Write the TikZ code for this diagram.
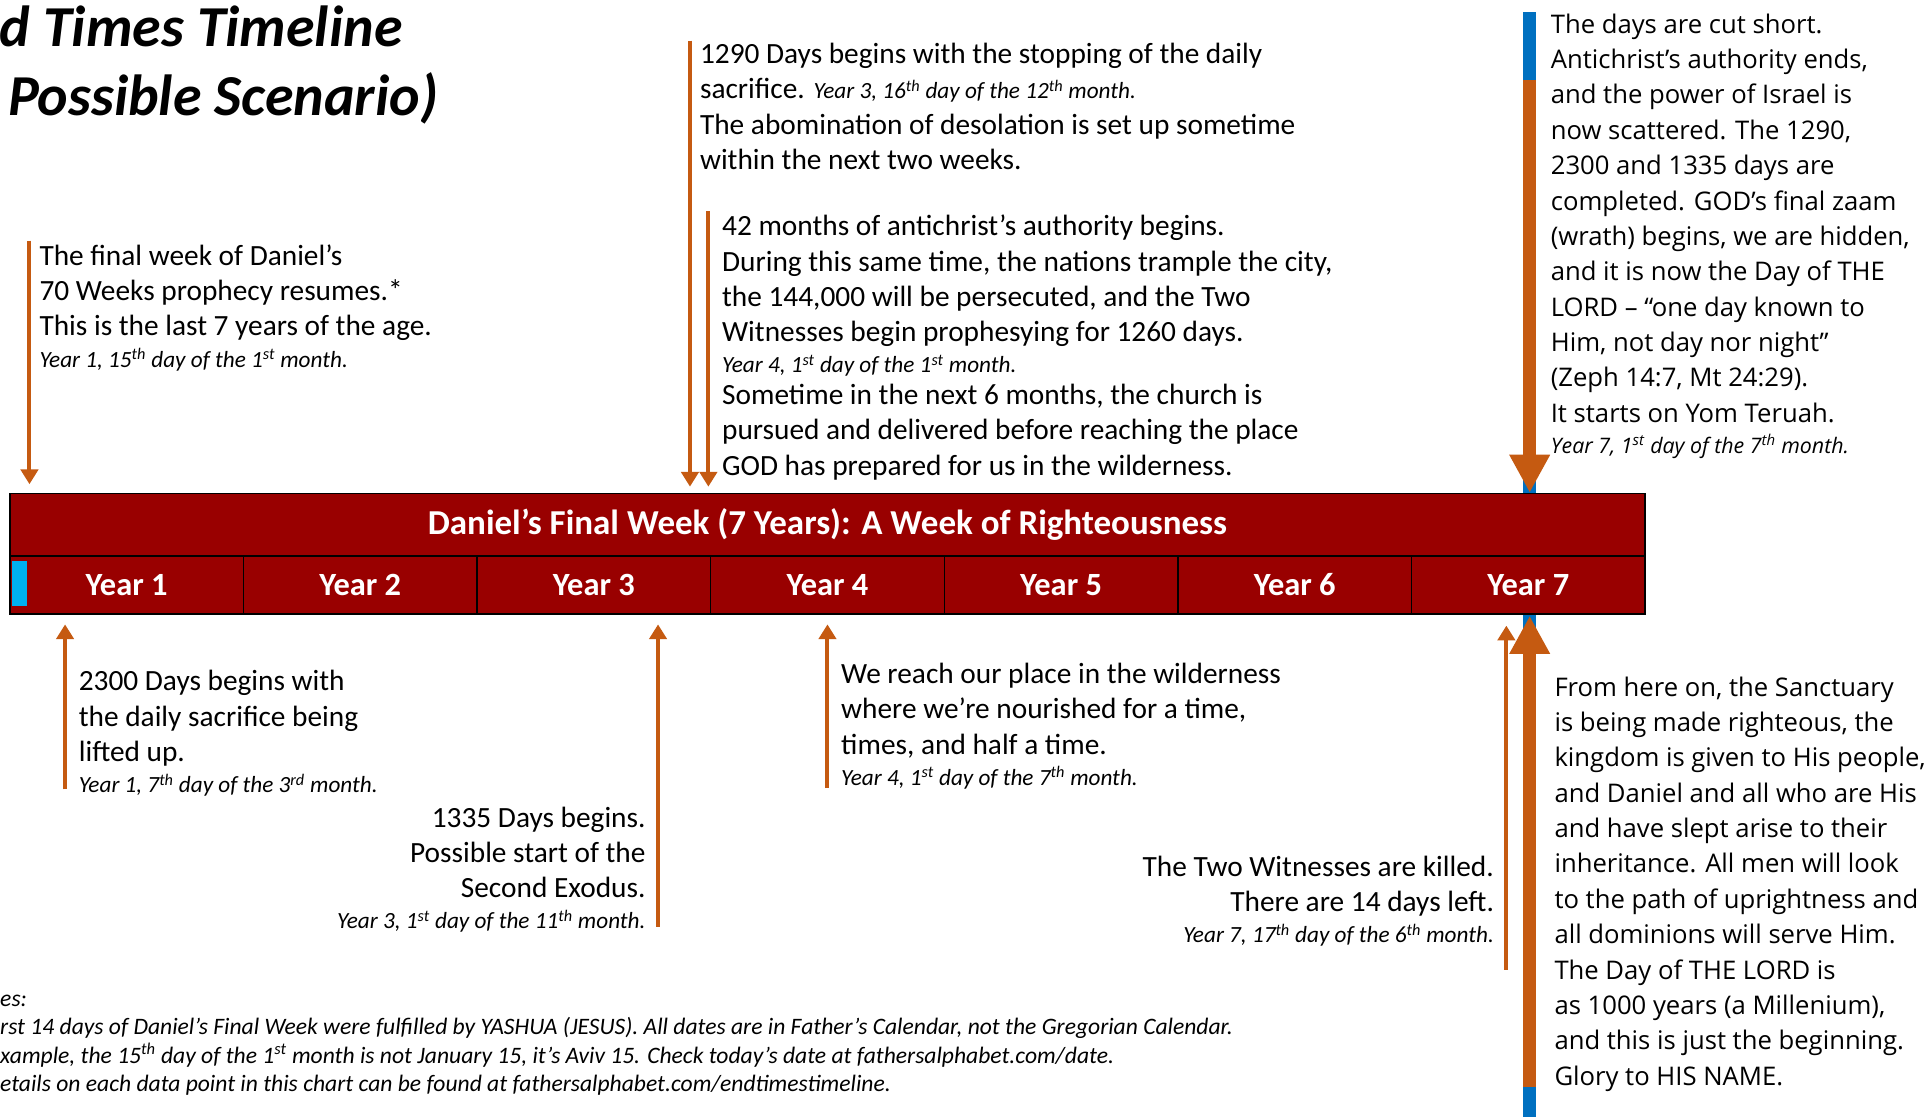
\documentclass[tikz,border=0pt]{standalone}
\usepackage{fontspec}
\setmainfont{Carlito}
\newfontfamily\segoe{Open Sans}
\usetikzlibrary{arrows.meta,positioning}
\definecolor{arroworange}{HTML}{C55A11}
\definecolor{weekred}{HTML}{990000}
\definecolor{lineblue}{HTML}{0070C0}
\definecolor{skyblue}{HTML}{00B0F0}
\newcommand{\txtfont}{\fontsize{23.9}{28.7}\selectfont}
\newcommand{\sidefont}{\segoe\fontsize{20.9}{28.8}\selectfont}
\newcommand{\datefont}{\fontsize{18.9}{21}\selectfont\itshape}
\newcommand{\sidedate}{\segoe\fontsize{17.4}{20}\selectfont\itshape}
\newcommand{\titlefont}{\fontsize{47.2}{52}\selectfont\bfseries\itshape}
\newcommand{\sups}[1]{\textsuperscript{#1}}

\begin{document}
\begin{tikzpicture}[x=1pt,y=-1pt,
  note/.style={inner sep=0pt,anchor=north west,align=left,font=\txtfont},
  noteright/.style={note,anchor=north east,align=right},
  sidenote/.style={note,font=\sidefont},
  hdrbox/.style={draw=black,line width=1.2pt,fill=weekred,text=white,
    font=\fontsize{28.5}{32}\selectfont\bfseries,minimum width=1332pt,minimum height=51pt,inner sep=0pt},
  yearbox/.style={hdrbox,font=\fontsize{26.4}{30}\selectfont\bfseries,minimum width=190.29pt,minimum height=47pt},
  thinarrow/.style={arroworange,line width=3.3pt,-{Triangle[width=14pt,length=12pt]}},
  bigarrow/.style={arroworange,line width=10.3pt,-{Triangle[width=31pt,length=31pt]}}]
\fill[white] (0,0) rectangle (1568,910);
\useasboundingbox (0,0) rectangle (1568,910);

\node[anchor=base east,inner sep=0pt,font=\titlefont] (title1) at (328,38) {d Times Timeline};
\node[anchor=base east,inner sep=0pt,font=\titlefont] (title2) at (357,94) {Possible Scenario)};

\coordinate (bluetop) at (1246,10);
\coordinate (bluebot) at (1246,910);
\draw[lineblue,line width=10.3pt] (bluetop) -- (bluebot);

\node[hdrbox] (hdr) at (674,427.5) {Daniel’s Final Week (7 Years): A Week of Righteousness};
\foreach \i in {1,...,7}
  \node[yearbox] (y\i) at ({8+190.29*(\i-0.5)},476.5) {Year \i};
\fill[skyblue] (10,457) rectangle (22,494);

\coordinate (a1) at (24,196);
\coordinate (a2) at (562,33);
\coordinate (a3) at (577,172);
\coordinate (a4) at (1246,65);
\draw[thinarrow,shorten >=7pt] (a1) -- (a1 |- hdr.north);
\draw[thinarrow,shorten >=5pt] (a2) -- (a2 |- hdr.north);
\draw[thinarrow,shorten >=5pt] (a3) -- (a3 |- hdr.north);
\draw[bigarrow] (a4) -- (a4 |- hdr.north);

\coordinate (b1) at (53,643);
\coordinate (b2) at (536,755);
\coordinate (b3) at (674,642);
\coordinate (b4) at (1227,790);
\coordinate (b5) at (1246,885);
\draw[thinarrow,shorten >=8pt] (b1) -- (b1 |- y1.south);
\draw[thinarrow,shorten >=8pt] (b2) -- (b2 |- y3.south);
\draw[thinarrow,shorten >=8pt] (b3) -- (b3 |- y4.south);
\draw[thinarrow,shorten >=9pt] (b4) -- (b4 |- y7.south);
\draw[bigarrow,shorten >=1pt] (b5) -- (b5 |- y7.south);

\node[note] (finalweek) at (32,199) {The final week of Daniel’s\\70 Weeks prophecy resumes.*\\This is the last 7 years of the age.\\[-3.2pt]{\datefont Year 1, 15\sups{th} day of the 1\sups{st} month.}};
\node[note] (days1290) at (570,35) {1290 Days begins with the stopping of the daily\\sacrifice. {\datefont Year 3, 16\sups{th} day of the 12\sups{th} month.}\\The abomination of desolation is set up sometime\\within the next two weeks.};
\node[note] (months42) at (588,175) {42 months of antichrist’s authority begins.\\During this same time, the nations trample the city,\\the 144,000 will be persecuted, and the Two\\Witnesses begin prophesying for 1260 days.\\[-3.2pt]{\datefont Year 4, 1\sups{st} day of the 1\sups{st} month.}\\[-2.7pt]Sometime in the next 6 months, the church is\\pursued and delivered before reaching the place\\GOD has prepared for us in the wilderness.};
\node[sidenote] (cutshort) at (1263,11) {The days are cut short.\\Antichrist’s authority ends,\\and the power of Israel is\\now scattered. The 1290,\\2300 and 1335 days are\\completed. GOD’s final zaam\\(wrath) begins, we are hidden,\\and it is now the Day of THE\\LORD – “one day known to\\Him, not day nor night”\\(Zeph 14:7, Mt 24:29).\\It starts on Yom Teruah.\\[-3.2pt]{\sidedate Year 7, 1\sups{st} day of the 7\sups{th} month.}};

\node[note] (days2300) at (64,546) {2300 Days begins with\\the daily sacrifice being\\lifted up.\\[-3.2pt]{\datefont Year 1, 7\sups{th} day of the 3\sups{rd} month.}};
\node[noteright] (days1335) at (526,657) {1335 Days begins.\\Possible start of the\\Second Exodus.\\[-3.2pt]{\datefont Year 3, 1\sups{st} day of the 11\sups{th} month.}};
\node[note] (wilderness) at (685,540) {We reach our place in the wilderness\\where we’re nourished for a time,\\times, and half a time.\\[-3.2pt]{\datefont Year 4, 1\sups{st} day of the 7\sups{th} month.}};
\node[noteright] (witnesses) at (1217,697) {The Two Witnesses are killed.\\There are 14 days left.\\[-3.2pt]{\datefont Year 7, 17\sups{th} day of the 6\sups{th} month.}};
\node[sidenote] (sanctuary) at (1266,551) {From here on, the Sanctuary\\is being made righteous, the\\kingdom is given to His people,\\and Daniel and all who are His\\and have slept arise to their\\inheritance. All men will look\\to the path of uprightness and\\all dominions will serve Him.\\The Day of THE LORD is\\as 1000 years (a Millenium),\\and this is just the beginning.\\Glory to HIS NAME.};

\node[note,font=\fontsize{19.2}{23.3}\selectfont\itshape] (notes) at (0,810) {es:\\rst 14 days of Daniel’s Final Week were fulfilled by YASHUA (JESUS). All dates are in Father’s Calendar, not the Gregorian Calendar.\\xample, the 15\sups{th} day of the 1\sups{st} month is not January 15, it’s Aviv 15. Check today’s date at fathersalphabet.com/date.\\etails on each data point in this chart can be found at fathersalphabet.com/endtimestimeline.};
\end{tikzpicture}
\end{document}
